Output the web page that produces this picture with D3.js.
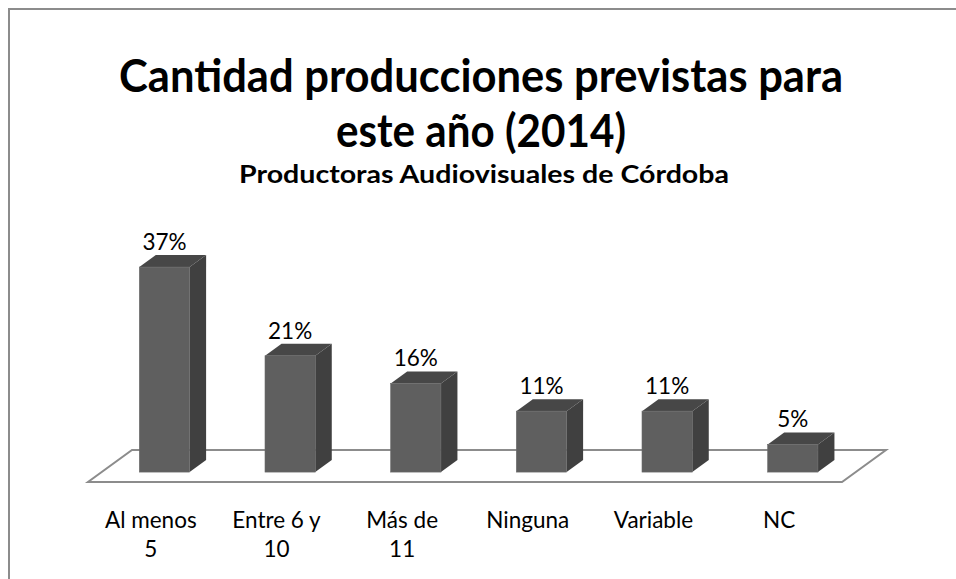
<!DOCTYPE html>
<html lang="es">
<head>
    <meta charset="UTF-8">
    <title>Cantidad producciones previstas</title>
    <style>
        body{
            margin: 0;
            background-color: #fff;
        }
        svg{
            display: block;
            font-family: Lato, "Open Sans", sans-serif;
        }
    </style>
</head>
<body>

<div id="chart"></div>

<script src="https://cdn.jsdelivr.net/npm/d3@7"></script>
<script>
    var categories = ["Al menos 5", "Entre 6 y 10", "Más de 11", "Ninguna", "Variable", "NC"];
    var values = [37, 21, 16, 11, 11, 5];
    var titleLines = ["Cantidad producciones previstas para", "este año (2014)"];
    var subtitle = "Productoras Audiovisuales de Córdoba";

    var width = 956, height = 579;

    // floor of the 3d plot (front edge + depth vector)
    var floorLeft = 88, floorRight = 842, floorY = 482;
    var depthX = 44, depthY = 32;
    var barT0 = 0.31, barT = 0.375;   // where the bar sits inside the floor depth
    var bdx = depthX * barT, bdy = depthY * barT;

    var svg = d3.select('#chart')
        .append('svg')
        .attr('width', width)
        .attr('height', height);

    // chart border (runs off right and bottom)
    svg.append('rect')
        .attr('x', 9).attr('y', 9)
        .attr('width', width + 20).attr('height', height + 20)
        .attr('fill', '#fff')
        .attr('stroke', '#8c8c8c')
        .attr('stroke-width', 2);

    // titles: Calibri is narrow and tall, so set glyphs to the picture's widths
    function setWidth(sel, target) {
        sel.attr('textLength', target).attr('lengthAdjust', 'spacingAndGlyphs');
    }

    var cx = 481;
    var t1 = svg.append('text').attr('x', cx).attr('y', 92)
        .attr('text-anchor', 'middle').attr('font-weight', 'bold')
        .attr('font-size', '45px').text(titleLines[0]);
    setWidth(t1, 724);
    var t2 = svg.append('text').attr('x', cx).attr('y', 147)
        .attr('text-anchor', 'middle').attr('font-weight', 'bold')
        .attr('font-size', '45px').text(titleLines[1]);
    setWidth(t2, 290);
    var st = svg.append('text').attr('x', cx + 3).attr('y', 183)
        .attr('text-anchor', 'middle').attr('font-weight', 'bold')
        .attr('font-size', '25px').text(subtitle);
    setWidth(st, 490);

    var xScale = d3.scaleBand()
        .domain(categories)
        .range([floorLeft, floorRight]);

    var yScale = d3.scaleLinear()
        .domain([0, 37])
        .range([0, 205]);

    var barW = xScale.bandwidth() * 0.4;

    // floor
    var floorPts = [
        [floorLeft, floorY],
        [floorRight, floorY],
        [floorRight + depthX, floorY - depthY],
        [floorLeft + depthX, floorY - depthY]
    ];
    svg.append('polygon')
        .attr('points', floorPts.join(' '))
        .attr('fill', '#fff')
        .attr('stroke', '#8c8c8c')
        .attr('stroke-width', 2);

    function barX(d) {
        return xScale(d) + (xScale.bandwidth() - barW) / 2 + depthX * barT0;
    }
    var baseY = floorY - depthY * barT0;

    var bars = svg.selectAll('.bar')
        .data(categories)
        .enter()
        .append('g')
        .attr('class', 'bar');

    // side face
    bars.append('polygon')
        .attr('points', function(d, i) {
            var x0 = barX(d) + barW, h = yScale(values[i]);
            return [[x0, baseY], [x0 + bdx, baseY - bdy], [x0 + bdx, baseY - h - bdy], [x0, baseY - h]].join(' ');
        })
        .attr('fill', '#404040');

    // top face
    bars.append('polygon')
        .attr('points', function(d, i) {
            var x0 = barX(d), top = baseY - yScale(values[i]);
            return [[x0, top], [x0 + bdx, top - bdy], [x0 + barW + bdx, top - bdy], [x0 + barW, top]].join(' ');
        })
        .attr('fill', '#474747');

    // front face
    bars.append('rect')
        .attr('x', function(d) { return barX(d); })
        .attr('y', function(d, i) { return baseY - yScale(values[i]); })
        .attr('width', barW)
        .attr('height', function(d, i) { return yScale(values[i]); })
        .attr('fill', '#5f5f5f')
        .attr('stroke', '#6a6a6a')
        .attr('stroke-width', 0.6);

    // value labels
    bars.append('text')
        .attr('x', function(d) { return barX(d) + barW / 2; })
        .attr('y', function(d, i) { return baseY - yScale(values[i]) - bdy - 5; })
        .attr('text-anchor', 'middle')
        .attr('font-size', '22.5px')
        .attr('fill', '#000')
        .text(function(d, i) { return values[i] + '%'; });

    // category labels, wrapped like excel does
    var wrapW = xScale.bandwidth() * 0.75;
    var catText = svg.selectAll('.cat')
        .data(categories)
        .enter()
        .append('text')
        .attr('class', 'cat')
        .attr('x', function(d) { return xScale(d) + xScale.bandwidth() / 2; })
        .attr('y', 528)
        .attr('text-anchor', 'middle')
        .attr('font-size', '22.5px')
        .attr('fill', '#000');

    catText.each(function(d) {
        var el = d3.select(this);
        var x = el.attr('x');
        var words = d.split(' ');
        var line = [];
        var tspan = el.append('tspan').attr('x', x).attr('dy', 0);
        words.forEach(function(w) {
            line.push(w);
            tspan.text(line.join(' '));
            if (tspan.node().getComputedTextLength() > wrapW && line.length > 1) {
                line.pop();
                tspan.text(line.join(' '));
                line = [w];
                tspan = el.append('tspan').attr('x', x).attr('dy', 29).text(w);
            }
        });
    });
</script>

</body>
</html>
